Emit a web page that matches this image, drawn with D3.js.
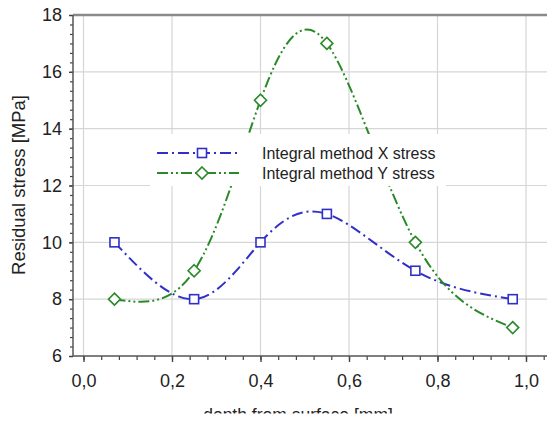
<!DOCTYPE html>
<html><head><meta charset="utf-8">
<script src="https://cdn.jsdelivr.net/npm/d3@7"></script>
<style>body{margin:0;background:#fff}svg{display:block}text{font-family:"Liberation Sans",Arial,sans-serif}</style>
</head><body><svg id="c" width="547" height="421"></svg>
<script>
const depth = [0.07, 0.25, 0.40, 0.55, 0.75, 0.97];
const xStress = [10, 8, 10, 11, 9, 8];
const yStress = [8, 9, 15, 17, 10, 7];
const seriesNames = ["Integral method X stress", "Integral method Y stress"];
const xTicks = [0, 0.2, 0.4, 0.6, 0.8, 1.0];
const yTicks = [6, 8, 10, 12, 14, 16, 18];
const xTitle = "depth from surface [mm]";
const yTitle = "Residual stress [MPa]";

(function () {
const svg = d3.select("#c");
const W = 547, H = 421;
const x = d3.scaleLinear().domain([0, 1]).range([83.5, 526]);
const y = d3.scaleLinear().domain([6, 18]).range([356, 15]);
const pLeft = 73, pTop = 15, pBottom = 356, pRight = W;
const FONT = '"Liberation Sans",Arial,sans-serif';

// grid
const g = svg.append("g");
g.selectAll(".vg").data(xTicks).join("line")
  .attr("x1", d => x(d)).attr("x2", d => x(d)).attr("y1", pTop).attr("y2", pBottom)
  .attr("stroke", "#d6d6d6").attr("stroke-width", 1.2);
g.selectAll(".hg").data(yTicks.filter(v => v > 6 && v < 18)).join("line")
  .attr("x1", pLeft).attr("x2", pRight).attr("y1", d => y(d)).attr("y2", d => y(d))
  .attr("stroke", "#d6d6d6").attr("stroke-width", 1.2);

// top frame
svg.append("line").attr("x1", pLeft).attr("x2", pRight).attr("y1", pTop).attr("y2", pTop)
  .attr("stroke", "#8a8a8a").attr("stroke-width", 2.5);

const fmt = d => d3.format(".1f")(d).replace(".", ",");

// x axis minor
const xMinor = d3.range(0, 1.0001, 0.04).concat([1.04]);
svg.append("g").attr("transform", `translate(0,${pBottom})`)
  .call(d3.axisBottom(x).tickValues(xMinor).tickSize(4).tickFormat(""))
  .call(s => s.select(".domain").remove())
  .selectAll("line").attr("stroke", "#444").attr("stroke-width", 1.2);
const gx = svg.append("g").attr("transform", `translate(0,${pBottom})`)
  .call(d3.axisBottom(x).tickValues(xTicks).tickSize(6).tickPadding(12).tickFormat(fmt));
gx.select(".domain").remove();
gx.selectAll("line").attr("stroke", "#444").attr("stroke-width", 1.4);
gx.selectAll("text").attr("font-size", 18).attr("fill", "#222").attr("font-family", FONT);

// y axis minor
const yMinor = d3.range(6, 18.001, 1/3);
svg.append("g").attr("transform", `translate(${pLeft},0)`)
  .call(d3.axisLeft(y).tickValues(yMinor).tickSize(3).tickFormat(""))
  .call(s => s.select(".domain").remove())
  .selectAll("line").attr("stroke", "#444").attr("stroke-width", 1.2);
const gy = svg.append("g").attr("transform", `translate(${pLeft},0)`)
  .call(d3.axisLeft(y).tickValues(yTicks).tickSize(4).tickPadding(7).tickFormat(d3.format("d")));
gy.select(".domain").remove();
gy.selectAll("line").attr("stroke", "#444").attr("stroke-width", 1.4);
gy.selectAll("text").attr("font-size", 18).attr("fill", "#222").attr("font-family", FONT);

// axis lines
svg.append("line").attr("x1", pLeft).attr("x2", pLeft).attr("y1", pTop).attr("y2", pBottom)
  .attr("stroke", "#555").attr("stroke-width", 1.5);
svg.append("line").attr("x1", pLeft).attr("x2", pRight).attr("y1", pBottom).attr("y2", pBottom)
  .attr("stroke", "#555").attr("stroke-width", 1.5);

// series
const blue = "#3030c8", green = "#2a8a2a";
const dashX = "11,4,2,4", dashY = "11,3,2,3,2,3";
const line = d3.line().curve(d3.curveNatural).x(d => x(d[0])).y(d => y(d[1]));
svg.append("path").attr("d", line(depth.map((d, i) => [d, xStress[i]]))).attr("fill", "none")
  .attr("stroke", blue).attr("stroke-width", 2).attr("stroke-dasharray", dashX);
svg.append("path").attr("d", line(depth.map((d, i) => [d, yStress[i]]))).attr("fill", "none")
  .attr("stroke", green).attr("stroke-width", 2).attr("stroke-dasharray", dashY);

const sq = 9, dm = 6;
function square(sel, cx, cy) {
  sel.append("rect").attr("x", cx - sq/2).attr("y", cy - sq/2).attr("width", sq).attr("height", sq)
    .attr("fill", "#fff").attr("stroke", blue).attr("stroke-width", 1.6);
}
function diamond(sel, cx, cy) {
  sel.append("path").attr("d", `M${cx},${cy-dm}L${cx+dm},${cy}L${cx},${cy+dm}L${cx-dm},${cy}Z`)
    .attr("fill", "#fff").attr("stroke", green).attr("stroke-width", 1.6);
}
depth.forEach((d, i) => square(svg, x(d), y(xStress[i])));
depth.forEach((d, i) => diamond(svg, x(d), y(yStress[i])));

// legend
const lg = svg.append("g");
lg.append("rect").attr("x", 150).attr("y", 134).attr("width", 296).attr("height", 52).attr("fill", "#fff");
const rows = [{name: seriesNames[0], color: blue, dash: dashX, mk: square, yy: 153},
              {name: seriesNames[1], color: green, dash: dashY, mk: diamond, yy: 173}];
rows.forEach(r => {
  lg.append("line").attr("x1", 157).attr("x2", 239).attr("y1", r.yy).attr("y2", r.yy)
    .attr("stroke", r.color).attr("stroke-width", 2).attr("stroke-dasharray", r.dash);
  r.mk(lg, 202, r.yy);
  lg.append("text").attr("x", 262).attr("y", r.yy + 5.5).attr("font-size", 16).attr("fill", "#222").text(r.name);
});

// titles
svg.append("text").attr("transform", `translate(25,185) rotate(-90)`).attr("text-anchor", "middle")
  .attr("font-size", 18.5).attr("fill", "#222").text(yTitle);
svg.append("text").attr("x", 298).attr("y", 420.5).attr("text-anchor", "middle")
  .attr("font-size", 17.5).attr("fill", "#222").text(xTitle);
svg.append("rect").attr("x", 0).attr("y", 413.5).attr("width", W).attr("height", 10).attr("fill", "#fff");
})();
</script></body></html>
